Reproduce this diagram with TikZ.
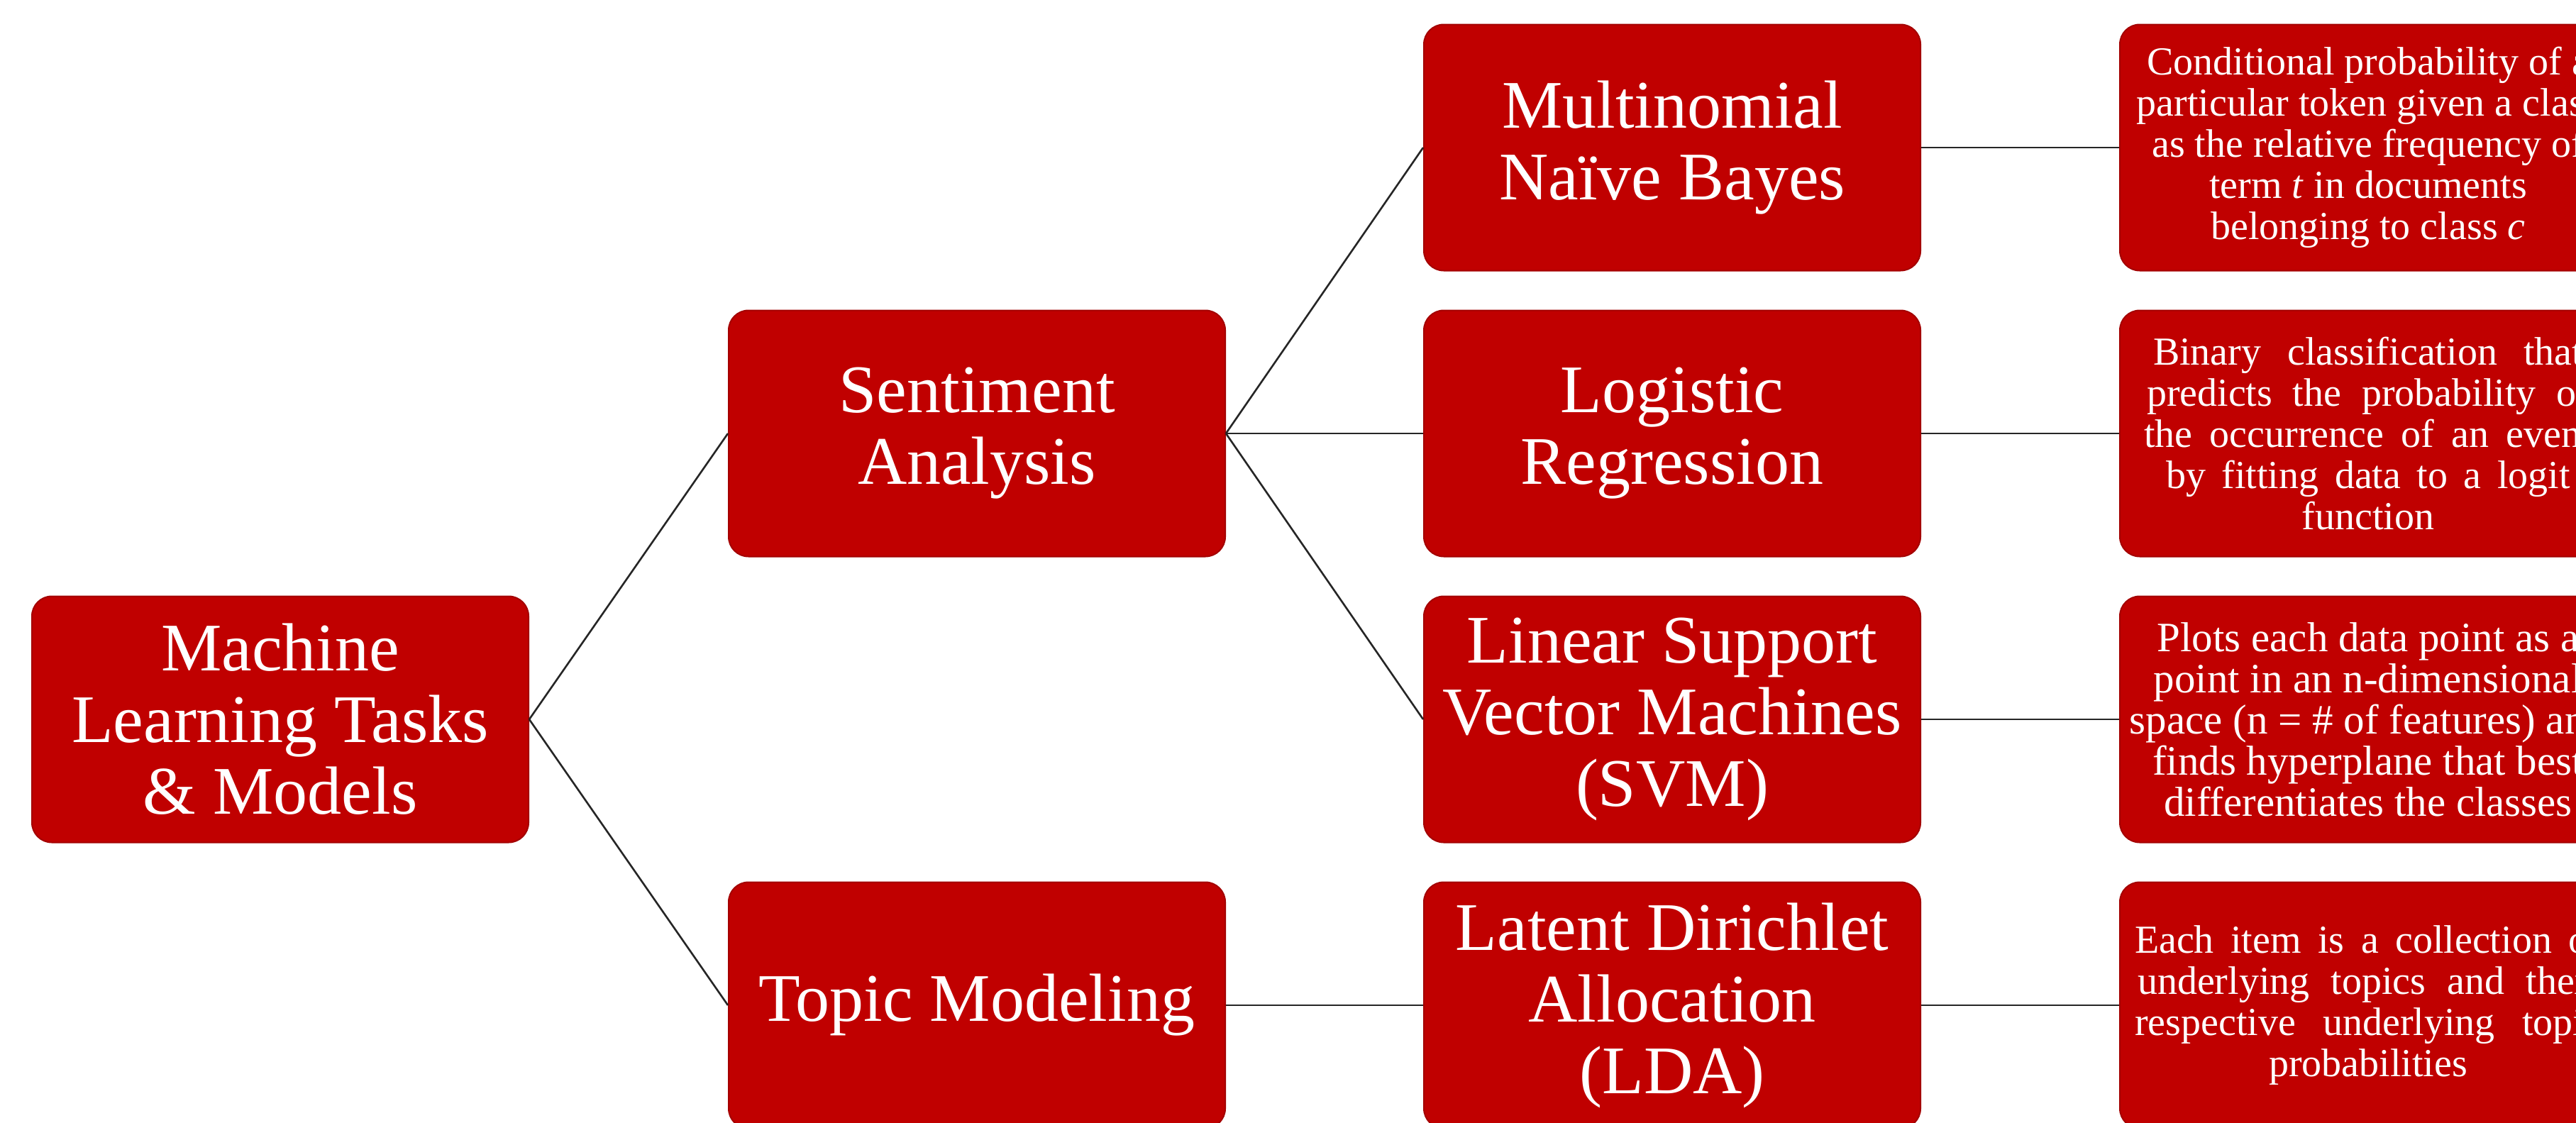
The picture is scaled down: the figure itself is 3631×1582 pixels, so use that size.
\documentclass[tikz,border=0pt]{standalone}
\usepackage{fontspec}
\setmainfont{Liberation Serif}
\definecolor{boxred}{HTML}{C00000}
\definecolor{edgered}{HTML}{A40000}
\newcommand{\spreadline}[2]{\makebox[#1pt][s]{#2}}
\tikzset{
  box/.style={fill=boxred, draw=edgered, line width=2pt, rounded corners=28pt,
    minimum width=700pt, minimum height=347pt, inner sep=0pt, text=white, align=center},
  bigbox/.style={box, font=\fontsize{96}{101}\selectfont},
  descbox/.style={box, font=\fontsize{56}{58}\selectfont},
  descboxlarge/.style={box, font=\fontsize{59}{58}\selectfont},
  link/.style={draw=black!85, line width=2.6pt},
}
\begin{document}
\begin{tikzpicture}[x=1pt,y=-1pt]
\useasboundingbox (0,0) rectangle (3631,1582);
\clip (0,0) rectangle (3631,1582);
\fill[white] (0,0) rectangle (3631,1582);
% level 1
\node[bigbox] (root) at (395,1014) {Machine\\Learning Tasks\\\& Models};
% level 2
\node[bigbox] (sa) at (1377,611) {Sentiment\\Analysis};
\node[bigbox] (tm) at (1377,1417) {Topic Modeling};
% level 3
\node[bigbox] (mnb) at (2357,208) {Multinomial\\Naïve Bayes};
\node[bigbox] (lr) at (2357,611) {Logistic\\Regression};
\node[bigbox] (svm) at (2357,1014) {Linear Support\\Vector Machines\\(SVM)};
\node[bigbox] (lda) at (2357,1417) {Latent Dirichlet\\Allocation\\(LDA)};
% level 4
\node[descbox] (d1) at (3338,208) {Conditional probability of a\\particular token given a class\\as the relative frequency of\\term \textit{t} in documents\\belonging to class \textit{c}};
\node[descbox] (d2) at (3338,611) {\spreadline{606}{Binary classification that}\\\spreadline{624}{predicts the probability of}\\\spreadline{632}{the occurrence of an event}\\\spreadline{570}{by fitting data to a logit}\\function};
\node[descboxlarge] (d3) at (3338,1014) {Plots each data point as a\\point in an n-dimensional\\space (n = \# of features) and\\finds hyperplane that best\\differentiates the classes};
\node[descbox] (d4) at (3338,1417) {\spreadline{658}{Each item is a collection of}\\\spreadline{650}{underlying topics and their}\\\spreadline{658}{respective underlying topic}\\probabilities};
% connectors
\draw[link] (root.east) -- (sa.west);
\draw[link] (root.east) -- (tm.west);
\draw[link] (sa.east) -- (mnb.west);
\draw[link] (sa.east) -- (lr.west);
\draw[link] (sa.east) -- (svm.west);
\draw[link] (tm.east) -- (lda.west);
\draw[link] (mnb.east) -- (d1.west);
\draw[link] (lr.east) -- (d2.west);
\draw[link] (svm.east) -- (d3.west);
\draw[link] (lda.east) -- (d4.west);
\end{tikzpicture}
\end{document}
